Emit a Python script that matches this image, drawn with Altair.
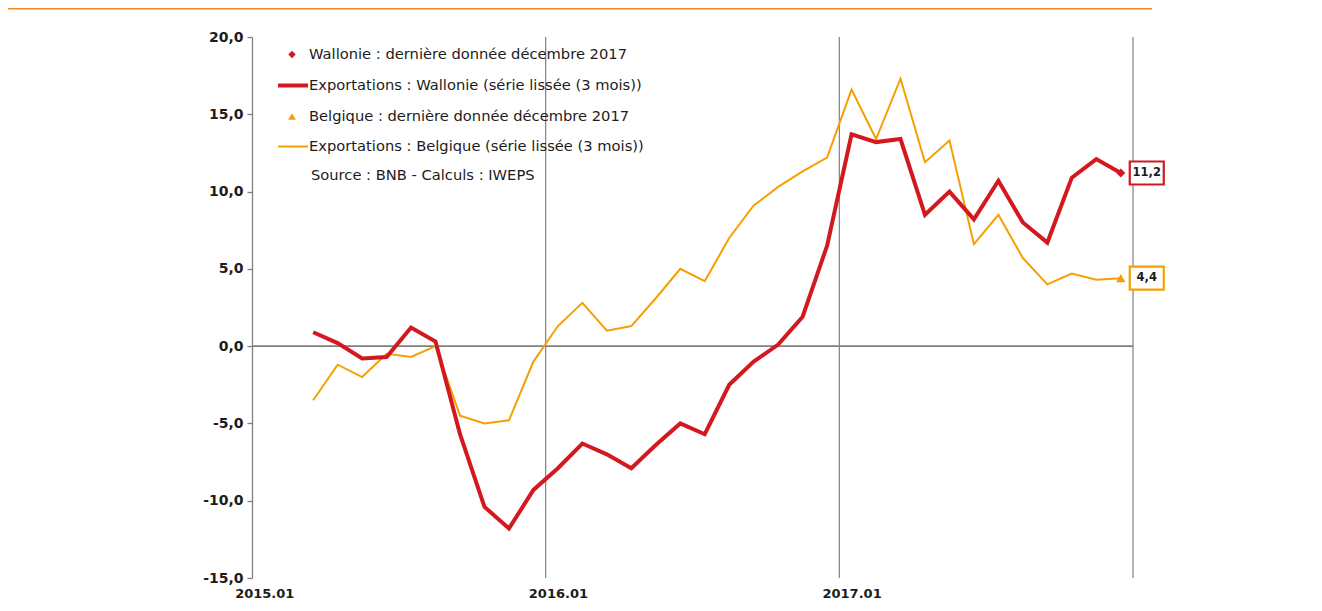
import altair as alt
import pandas as pd

# ---- data ----
months = [
    "2015.03", "2015.04", "2015.05", "2015.06", "2015.07", "2015.08", "2015.09", "2015.10",
    "2015.11", "2015.12", "2016.01", "2016.02", "2016.03", "2016.04", "2016.05", "2016.06",
    "2016.07", "2016.08", "2016.09", "2016.10", "2016.11", "2016.12", "2017.01", "2017.02",
    "2017.03", "2017.04", "2017.05", "2017.06", "2017.07", "2017.08", "2017.09", "2017.10",
    "2017.11", "2017.12",
]
wallonie = [0.9, 0.2, -0.8, -0.7, 1.2, 0.3, -5.7, -10.4, -11.8, -9.3, -7.9, -6.3,
            -7.0, -7.9, -6.4, -5.0, -5.7, -2.5, -1.0, 0.1, 1.9, 6.5, 13.7, 13.2,
            13.4, 8.5, 10.0, 8.2, 10.7, 8.0, 6.7, 10.9, 12.1, 11.2]
belgique = [-3.5, -1.2, -2.0, -0.5, -0.7, 0.0, -4.5, -5.0, -4.8, -1.0, 1.3, 2.8,
            1.0, 1.3, 3.1, 5.0, 4.2, 7.0, 9.1, 10.3, 11.3, 12.2, 16.6, 13.4,
            17.3, 11.9, 13.3, 6.6, 8.5, 5.7, 4.0, 4.7, 4.3, 4.4]
year_labels = ["2015.01", "2016.01", "2017.01"]
y_ticks = [-15, -10, -5, 0, 5, 10, 15, 20]

legend_texts = [
    "Wallonie : dernière donnée décembre 2017",
    "Exportations : Wallonie (série lissée (3 mois))",
    "Belgique : dernière donnée décembre 2017",
    "Exportations : Belgique (série lissée (3 mois))",
    "Source : BNB - Calculs : IWEPS",
]

RED = "#D2191F"
ORANGE = "#F5A000"
TOPBAR = "#F68B23"
GRID = "#808080"
TEXT = "#1c1c1c"
FONT = "DejaVu Sans"


def month_pos(label):
    y, m = label.split(".")
    return (int(y) - 2015) * 12 + (int(m) - 1) + 0.5


t = [month_pos(m) for m in months]
df_w = pd.DataFrame({"t": t, "value": wallonie, "month": months})
df_b = pd.DataFrame({"t": t, "value": belgique, "month": months})
df_grid = pd.DataFrame({"t": [(i + 1) * 12 for i in range(len(year_labels))]})
df_zero = pd.DataFrame({"value": [0]})
one = pd.DataFrame({"a": [0]})

xscale = alt.Scale(domain=[0, 36], nice=False, zero=False)
yscale = alt.Scale(domain=[-15, 20], nice=False, zero=False)

label_expr = "[" + ",".join("'%s'" % s for s in year_labels) + "][floor(datum.value / 12)]"
x_axis = alt.Axis(values=[i * 12 + 0.5 for i in range(len(year_labels))], labelExpr=label_expr,
                  domain=False, ticks=False, grid=False, title=None, labelPadding=9,
                  labelOverlap=False, labelFlush=False, labelFontSize=13)
y_axis = alt.Axis(values=y_ticks, grid=False, title=None, tickSize=5,
                  labelExpr="(datum.value < 0 ? '-' : '') + replace(format(abs(datum.value), '.1f'), '.', ',')",
                  labelPadding=4, labelOverlap=False, labelFontSize=14)


def X():
    return alt.X("t:Q", scale=xscale, axis=x_axis)


def Y():
    return alt.Y("value:Q", scale=yscale, axis=y_axis)


# top orange strip (decoration)
topbar = alt.Chart(one).mark_rect(color=TOPBAR).encode(
    x=alt.value(-244), x2=alt.value(900), y=alt.value(-29), y2=alt.value(-27.5))

grid = alt.Chart(df_grid).mark_rule(color=GRID, strokeWidth=1.2).encode(x=X())
zero = alt.Chart(df_zero).mark_rule(color=GRID, strokeWidth=1.6).encode(y=Y())

line_b = alt.Chart(df_b).mark_line(color=ORANGE, strokeWidth=2).encode(x=X(), y=Y())
line_w = alt.Chart(df_w).mark_line(color=RED, strokeWidth=4).encode(x=X(), y=Y())

last_w = df_w.tail(1)
last_b = df_b.tail(1)

end_w = alt.Chart(last_w).mark_point(shape="diamond", filled=True, color=RED, size=80, opacity=1).encode(x=X(), y=Y())
end_b = alt.Chart(last_b).mark_point(shape="triangle-up", filled=True, color=ORANGE, size=90, opacity=1).encode(x=X(), y=Y())

box_path = "M9,-11.5L43,-11.5L43,11.5L9,11.5Z"


def end_label(df, col):
    box = alt.Chart(df).mark_point(shape=box_path, size=4, filled=True, fill="white",
                                   stroke=col, strokeWidth=2.2, opacity=1, fillOpacity=1).encode(x=X(), y=Y())
    txt = alt.Chart(df).transform_calculate(
        lab="replace(format(datum.value, '.1f'), '.', ',')"
    ).mark_text(dx=26, align="center", baseline="middle", font=FONT, fontSize=11.5,
                fontWeight="bold", color=TEXT).encode(x=X(), y=Y(), text="lab:N")
    return box + txt


# legend (drawn manually inside the plot)
leg_y = [17.5, 48.5, 79.5, 109.5, 138.5]
legend = []
legend.append(alt.Chart(one).mark_point(shape="diamond", filled=True, color=RED, size=55, opacity=1)
              .encode(x=alt.value(40), y=alt.value(leg_y[0])))
legend.append(alt.Chart(one).mark_rule(color=RED, strokeWidth=4)
              .encode(x=alt.value(26), x2=alt.value(56), y=alt.value(leg_y[1])))
legend.append(alt.Chart(one).mark_point(shape="triangle-up", filled=True, color=ORANGE, size=60, opacity=1)
              .encode(x=alt.value(40), y=alt.value(leg_y[2])))
legend.append(alt.Chart(one).mark_rule(color=ORANGE, strokeWidth=2)
              .encode(x=alt.value(26), x2=alt.value(56), y=alt.value(leg_y[3])))
for i, txt in enumerate(legend_texts):
    xx = 59 if i == 4 else 57
    legend.append(alt.Chart(pd.DataFrame({"label": [txt]})).mark_text(
        align="left", baseline="middle", font=FONT, fontSize=14.7, color=TEXT
    ).encode(x=alt.value(xx), y=alt.value(leg_y[i]), text="label:N"))

chart = alt.layer(
    topbar, grid, zero, line_b, line_w, end_w, end_b,
    end_label(last_w, RED), end_label(last_b, ORANGE), *legend
).properties(
    width=881, height=541,
    autosize=alt.AutoSizeParams(type="none"),
    padding={"left": 244, "top": 29, "right": 181, "bottom": 25},
).configure_view(stroke=None).configure_axis(
    labelFont=FONT, labelFontWeight="bold", labelColor=TEXT,
    domainColor=GRID, domainWidth=1.3, tickColor=GRID, tickWidth=1.3,
)

chart.save("out.html", embed_options={"renderer": "svg", "actions": False})
